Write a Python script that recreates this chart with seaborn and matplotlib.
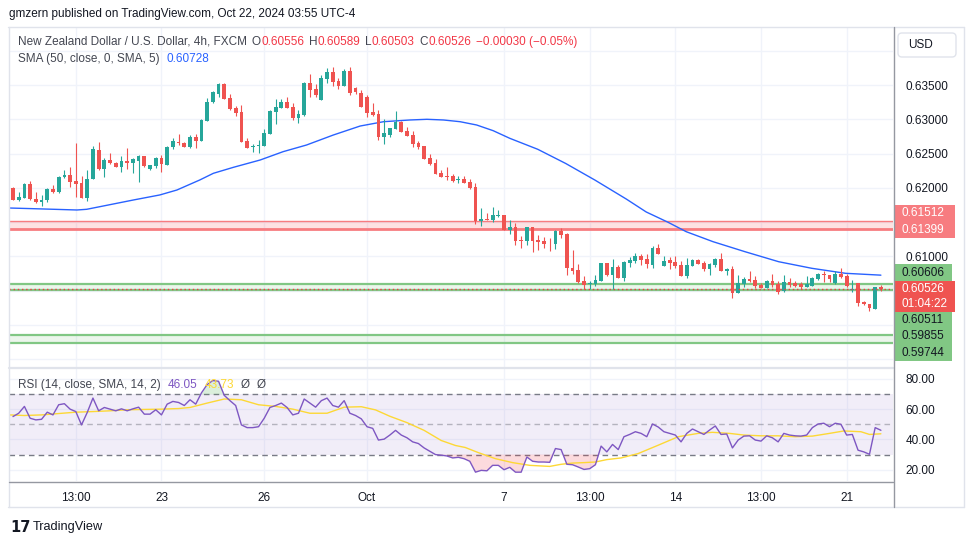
import matplotlib
matplotlib.use("Agg")
import matplotlib.pyplot as plt
import matplotlib.transforms as mtransforms
from matplotlib.patches import Rectangle, FancyBboxPatch
from matplotlib.lines import Line2D
import numpy as np
import seaborn as sns

W, H = 970, 545

# NZDUSD 4h candles (FXCM), oldest first
opens = [0.62003, 0.61824, 0.61858, 0.62052, 0.61838, 0.61799, 0.61824, 0.61984, 0.61935, 0.62154,
         0.62188, 0.62101, 0.62076, 0.61848, 0.62125, 0.62553, 0.62271, 0.62407, 0.62358, 0.62310,
         0.62392, 0.62358, 0.62397, 0.62465, 0.62271, 0.62319, 0.62441, 0.62334, 0.62591, 0.62674,
         0.62660, 0.62591, 0.62737, 0.62689, 0.62980, 0.63247, 0.63369, 0.63515, 0.63315, 0.63170,
         0.63111, 0.62684, 0.62601, 0.62611, 0.62611, 0.62786, 0.63102, 0.63170, 0.63247, 0.63174,
         0.63024, 0.63063, 0.63534, 0.63442, 0.63281, 0.63587, 0.63685, 0.63558, 0.63490, 0.63709,
         0.63461, 0.63379, 0.63320, 0.63111, 0.63077, 0.62747, 0.62771, 0.62859, 0.62965, 0.62829,
         0.62771, 0.62659, 0.62611, 0.62441, 0.62368, 0.62222, 0.62174, 0.62174, 0.62115, 0.62130,
         0.62091, 0.62008, 0.61522, 0.61547, 0.61532, 0.61591, 0.61605, 0.61386, 0.61425, 0.61240,
         0.61231, 0.61425, 0.61241, 0.61226, 0.61202, 0.61182, 0.61372, 0.61328, 0.60828, 0.60803,
         0.60643, 0.60594, 0.60599, 0.60648, 0.60900, 0.60730, 0.60842, 0.60691, 0.60910, 0.60934,
         0.61007, 0.60959, 0.60876, 0.61119, 0.60866, 0.60949, 0.60915, 0.60876, 0.60721, 0.60866,
         0.60949, 0.60910, 0.60818, 0.60876, 0.60964, 0.60793, 0.60813, 0.60473, 0.60599, 0.60667,
         0.60657, 0.60585, 0.60546, 0.60643, 0.60599, 0.60502, 0.60623, 0.60609, 0.60594, 0.60560,
         0.60575, 0.60672, 0.60740, 0.60730, 0.60609, 0.60740, 0.60716, 0.60512, 0.60609, 0.60342,
         0.60303, 0.60235, 0.60556]
highs = [0.62018, 0.61945, 0.62067, 0.62101, 0.61945, 0.61897, 0.62003, 0.62042, 0.62174, 0.62261,
         0.62300, 0.62659, 0.62174, 0.62261, 0.62611, 0.62674, 0.62431, 0.62504, 0.62382, 0.62465,
         0.62577, 0.62431, 0.62480, 0.62465, 0.62339, 0.62455, 0.62480, 0.62611, 0.62728, 0.62786,
         0.62674, 0.62771, 0.62786, 0.63004, 0.63306, 0.63417, 0.63534, 0.63534, 0.63364, 0.63194,
         0.63208, 0.62723, 0.62640, 0.62698, 0.62854, 0.63136, 0.63291, 0.63291, 0.63320, 0.63242,
         0.63136, 0.63549, 0.63660, 0.63515, 0.63646, 0.63743, 0.63757, 0.63597, 0.63733, 0.63767,
         0.63476, 0.63427, 0.63354, 0.63233, 0.63136, 0.63004, 0.62878, 0.63121, 0.62980, 0.62883,
         0.62829, 0.62688, 0.62611, 0.62494, 0.62416, 0.62261, 0.62309, 0.62203, 0.62174, 0.62174,
         0.62125, 0.62066, 0.61712, 0.61629, 0.61717, 0.61678, 0.61605, 0.61532, 0.61493, 0.61299,
         0.61435, 0.61435, 0.61313, 0.61279, 0.61265, 0.61386, 0.61411, 0.61338, 0.61095, 0.60891,
         0.60716, 0.60643, 0.60730, 0.60900, 0.60900, 0.60959, 0.60876, 0.60939, 0.60988, 0.61056,
         0.61036, 0.61036, 0.61153, 0.61182, 0.61012, 0.60998, 0.61007, 0.60934, 0.60973, 0.60959,
         0.60959, 0.60934, 0.60900, 0.60973, 0.61046, 0.60828, 0.60862, 0.60730, 0.60696, 0.60789,
         0.60721, 0.60609, 0.60657, 0.60745, 0.60648, 0.60730, 0.60682, 0.60643, 0.60633, 0.60716,
         0.60696, 0.60755, 0.60789, 0.60730, 0.60793, 0.60828, 0.60740, 0.60657, 0.60619, 0.60351,
         0.60303, 0.60551, 0.60589]
lows = [0.61819, 0.61814, 0.61848, 0.61824, 0.61775, 0.61741, 0.61799, 0.61930, 0.61930, 0.62149,
        0.62008, 0.61872, 0.61848, 0.61804, 0.62125, 0.62261, 0.62164, 0.62348, 0.62300, 0.62237,
        0.62276, 0.62212, 0.62091, 0.62310, 0.62261, 0.62285, 0.62237, 0.62329, 0.62562, 0.62625,
        0.62591, 0.62577, 0.62586, 0.62689, 0.62980, 0.63233, 0.63330, 0.63296, 0.63136, 0.63048,
        0.62674, 0.62577, 0.62528, 0.62514, 0.62611, 0.62786, 0.62932, 0.63170, 0.63160, 0.62990,
        0.62951, 0.63053, 0.63330, 0.63330, 0.63281, 0.63534, 0.63490, 0.63442, 0.63485, 0.63354,
        0.63364, 0.63174, 0.63038, 0.63048, 0.62698, 0.62635, 0.62747, 0.62859, 0.62820, 0.62756,
        0.62601, 0.62567, 0.62421, 0.62334, 0.62203, 0.62154, 0.62115, 0.62091, 0.62076, 0.62066,
        0.61979, 0.61474, 0.61445, 0.61532, 0.61508, 0.61581, 0.61386, 0.61328, 0.61168, 0.61119,
        0.61168, 0.61070, 0.61095, 0.61119, 0.61085, 0.61109, 0.61265, 0.60730, 0.60745, 0.60609,
        0.60521, 0.60521, 0.60570, 0.60648, 0.60716, 0.60526, 0.60691, 0.60643, 0.60852, 0.60900,
        0.60876, 0.60837, 0.60837, 0.61036, 0.60866, 0.60818, 0.60837, 0.60721, 0.60691, 0.60862,
        0.60891, 0.60793, 0.60730, 0.60852, 0.60793, 0.60730, 0.60400, 0.60473, 0.60560, 0.60633,
        0.60536, 0.60546, 0.60536, 0.60560, 0.60448, 0.60487, 0.60551, 0.60560, 0.60526, 0.60560,
        0.60570, 0.60657, 0.60633, 0.60633, 0.60599, 0.60682, 0.60560, 0.60478, 0.60278, 0.60288,
        0.60210, 0.60235, 0.60503]
closes = [0.61824, 0.61872, 0.62057, 0.61833, 0.61790, 0.61824, 0.61984, 0.61935, 0.62164, 0.62188,
          0.62091, 0.62057, 0.61848, 0.62130, 0.62562, 0.62271, 0.62407, 0.62358, 0.62310, 0.62392,
          0.62358, 0.62416, 0.62465, 0.62319, 0.62329, 0.62441, 0.62344, 0.62591, 0.62689, 0.62650,
          0.62601, 0.62737, 0.62689, 0.62990, 0.63257, 0.63393, 0.63515, 0.63296, 0.63150, 0.63097,
          0.62674, 0.62586, 0.62616, 0.62625, 0.62795, 0.63126, 0.63174, 0.63257, 0.63170, 0.63024,
          0.63077, 0.63534, 0.63427, 0.63354, 0.63607, 0.63685, 0.63549, 0.63490, 0.63709, 0.63379,
          0.63403, 0.63184, 0.63097, 0.63063, 0.62747, 0.62795, 0.62868, 0.62965, 0.62820, 0.62761,
          0.62640, 0.62601, 0.62421, 0.62348, 0.62203, 0.62164, 0.62164, 0.62105, 0.62130, 0.62076,
          0.62003, 0.61522, 0.61547, 0.61532, 0.61605, 0.61605, 0.61386, 0.61435, 0.61231, 0.61231,
          0.61425, 0.61231, 0.61216, 0.61182, 0.61192, 0.61372, 0.61313, 0.60828, 0.60789, 0.60633,
          0.60585, 0.60609, 0.60657, 0.60900, 0.60730, 0.60842, 0.60691, 0.60915, 0.60949, 0.61007,
          0.60949, 0.60886, 0.61119, 0.61036, 0.60939, 0.60910, 0.60866, 0.60721, 0.60876, 0.60949,
          0.60891, 0.60818, 0.60891, 0.60959, 0.60793, 0.60813, 0.60473, 0.60609, 0.60667, 0.60643,
          0.60575, 0.60546, 0.60643, 0.60585, 0.60478, 0.60623, 0.60585, 0.60575, 0.60560, 0.60594,
          0.60691, 0.60740, 0.60725, 0.60672, 0.60740, 0.60706, 0.60570, 0.60526, 0.60327, 0.60303,
          0.60244, 0.60551, 0.60526]

# SMA(50) line, sampled along the curve (bar index, price)
sma_idx = [-0.7, 3.6, 11.2, 12.9, 15.2, 21.1, 25.7, 28.7, 32.7, 35.1, 38.6, 43.3, 47.3, 51.4, 56.1,
           60.8, 64.9, 69.5, 72.5, 75.4, 78.3, 81.2, 84.1, 87.0, 90.0, 91.9, 96.8, 101.9, 107.4,
           110.9, 114.7, 117.9, 122.6, 128.2, 134.1, 139.9, 145.8, 152.0]
sma_val = [0.61707, 0.61697, 0.61678, 0.61688, 0.61726, 0.61824, 0.61897, 0.61969, 0.62115, 0.62213,
           0.62300, 0.62407, 0.62528, 0.62625, 0.62771, 0.62902, 0.62965, 0.62990, 0.63000, 0.62990,
           0.62965, 0.62917, 0.62834, 0.62723, 0.62625, 0.62563, 0.62356, 0.62115, 0.61838, 0.61649,
           0.61500, 0.61362, 0.61216, 0.61070, 0.60924, 0.60828, 0.60755, 0.60728]

# RSI(14), one value per bar
rsi = [55.1, 57.3, 61.8, 54.0, 52.9, 53.3, 58.0, 56.2, 62.9, 63.6,
       60.0, 58.4, 49.6, 57.8, 67.3, 58.9, 61.1, 60.0, 58.9, 60.2,
       58.9, 60.2, 61.3, 56.7, 56.7, 59.6, 56.2, 63.3, 65.1, 64.4,
       62.4, 66.2, 63.3, 70.7, 76.2, 78.9, 78.4, 69.1, 65.6, 62.4,
       49.6, 47.8, 47.8, 48.4, 54.0, 61.1, 62.4, 64.0, 61.1, 56.2,
       57.3, 66.7, 64.0, 61.3, 65.6, 67.3, 62.4, 61.3, 65.6, 57.3,
       55.8, 53.6, 48.4, 47.3, 39.6, 40.2, 42.9, 46.0, 42.9, 41.1,
       38.4, 37.3, 34.4, 32.2, 30.0, 29.6, 29.1, 27.8, 28.2, 27.3,
       25.6, 18.4, 19.6, 19.3, 22.9, 22.9, 20.0, 21.6, 18.4, 18.4,
       28.4, 25.6, 25.1, 25.1, 24.9, 34.0, 33.3, 23.6, 23.3, 21.8,
       20.2, 20.7, 23.3, 35.6, 31.8, 36.7, 33.3, 41.8, 43.3, 45.1,
       44.0, 41.8, 50.2, 48.2, 45.1, 44.0, 42.9, 38.4, 44.0, 46.9,
       45.1, 43.3, 46.2, 48.9, 43.3, 43.6, 34.4, 39.6, 42.2, 42.4,
       39.6, 38.9, 42.4, 41.1, 38.4, 44.0, 42.9, 42.4, 42.2, 42.9,
       47.8, 50.2, 50.7, 48.4, 50.7, 50.0, 42.9, 43.3, 32.9, 31.8,
       30.2, 47.8, 46.05]

# SMA(14) of RSI, sampled along the curve
rsi_ma_idx = [-0.7, 2, 5, 8, 11, 14, 17, 20, 23, 26, 29, 31, 34, 37, 40, 43, 46, 49, 52, 55, 58,
              61, 63.5, 66, 69, 72, 75, 77.5, 79.2, 81.5, 84.5, 87.5, 90.5, 94, 96, 98, 100, 102,
              104, 106.5, 109.5, 113, 116.5, 120, 122.5, 125.5, 128, 131, 134, 137, 140, 143,
              145.5, 148.5, 150, 152]
rsi_ma_val = [56.2, 55.8, 56.2, 57.1, 58.0, 58.4, 58.9, 59.6, 59.8, 60.0, 60.4, 61.1, 64.0, 66.7,
              66.2, 62.9, 61.8, 60.0, 57.3, 57.3, 61.3, 61.6, 59.5, 55.3, 51.1, 46.0, 39.3, 36.0,
              34.7, 31.3, 27.3, 24.7, 22.9, 22.2, 23.6, 24.4, 24.7, 25.1, 26.7, 27.8, 30.7, 36.2,
              41.8, 44.0, 44.7, 44.0, 42.9, 42.4, 42.4, 41.8, 42.2, 44.0, 45.6, 45.1, 43.3, 43.73]

time_ticks = [11, 26, 44, 62, 86, 101, 116, 131, 146]
time_labels = ["13:00", "23", "26", "Oct", "7", "13:00", "14", "13:00", "21"]
price_ticks = [0.635, 0.630, 0.625, 0.620, 0.610]
price_grid = [0.640, 0.635, 0.630, 0.625, 0.620, 0.615, 0.610, 0.605, 0.600, 0.595]
rsi_ticks = [20, 40, 60, 80]

resistance = [0.61399, 0.61512]
support_1 = [0.60511, 0.60606]
support_2 = [0.59744, 0.59855]
last_price = 0.60526
countdown = "01:04:22"

GREEN = "#26a69a"
RED = "#ef5350"
TXT = "#131722"
GREY = "#787b86"
GRID = "#f0f3fa"
FS = 8.5

sns.set_theme(style="white")
plt.rcParams["font.family"] = ["Liberation Sans", "DejaVu Sans"]

fig = plt.figure(figsize=(W / 100, H / 100), dpi=100)
fig.patch.set_facecolor("white")
PX = mtransforms.IdentityTransform()


def frac_rect(x, y, w, h):
    return [x / W, 1 - (y + h) / H, w / W, h / H]


ax = fig.add_axes(frac_rect(9, 27, 884, 340))
ax_r = fig.add_axes(frac_rect(9, 369, 884, 112), sharex=ax)
for a in (ax, ax_r):
    a.set_facecolor("white")
    for s in a.spines.values():
        s.set_visible(False)

# ---- price panel
idx = np.arange(len(opens))
o = np.array(opens)
hi = np.array(highs)
lo = np.array(lows)
c = np.array(closes)
cols = np.where(c >= o, GREEN, RED)

for p in price_grid:
    ax.axhline(p, color=GRID, lw=1, zorder=0)
for t in time_ticks:
    ax.axvline(t, color=GRID, lw=1, zorder=0)
    ax_r.axvline(t, color=GRID, lw=1, zorder=0)

ax.axhspan(resistance[0], resistance[1], color="#f77c80", alpha=0.22, lw=0, zorder=1)
ax.axhline(resistance[1], color="#f77c80", lw=1.0, zorder=2)
ax.axhline(resistance[0], color="#f77c80", lw=2.0, zorder=2)
for band in (support_1, support_2):
    ax.axhspan(band[0], band[1], color="#81c784", alpha=0.15, lw=0, zorder=1)
    ax.axhline(band[0], color="#81c784", lw=1.6, zorder=2)
    ax.axhline(band[1], color="#81c784", lw=1.6, zorder=2)

sns.lineplot(x=sma_idx, y=sma_val, ax=ax, color="#2962ff", linewidth=1.0, zorder=3, legend=False)

ax.vlines(idx, lo, hi, colors=cols, linewidth=0.8, zorder=4)
body = np.maximum(np.abs(c - o), 0.00012)
ax.bar(idx, body, bottom=np.minimum(o, c), width=0.66, color=cols, linewidth=0, zorder=5)

ax.axhline(last_price, color="#f23645", lw=1, linestyle=(0, (1, 2)), zorder=6)

ax.set_xlim(-0.7, 154.12)
ax.set_ylim(0.593892, 0.643455)
ax.yaxis.tick_right()
ax.set_yticks(price_ticks)
ax.set_yticklabels([f"{p:.5f}" for p in price_ticks])
ax.tick_params(axis="y", length=0, pad=9, labelsize=FS, labelcolor=TXT)
ax.tick_params(axis="x", length=0, labelbottom=False)
ax.grid(False)

# ---- RSI panel
r = np.array(rsi)
for v in rsi_ticks:
    ax_r.axhline(v, color=GRID, lw=1, zorder=0)
ax_r.axhspan(30, 70, color="#7e57c2", alpha=0.1, lw=0, zorder=1)
ax_r.axhline(70, color=GREY, lw=1, ls=(0, (4, 3)), zorder=2)
ax_r.axhline(30, color=GREY, lw=1, ls=(0, (4, 3)), zorder=2)
ax_r.axhline(50, color=GREY, lw=1, ls=(0, (4, 3)), alpha=0.5, zorder=2)
ax_r.fill_between(idx, r, 30, where=r < 30, interpolate=True, color="#f23645", alpha=0.18, lw=0, zorder=2)
ax_r.fill_between(idx, r, 70, where=r > 70, interpolate=True, color="#4caf50", alpha=0.2, lw=0, zorder=2)
sns.lineplot(x=rsi_ma_idx, y=rsi_ma_val, ax=ax_r, color="#fdd835", linewidth=1.0, zorder=3, legend=False)
sns.lineplot(x=idx, y=r, ax=ax_r, color="#7e57c2", linewidth=1.0, zorder=4, legend=False)
ax_r.set_ylim(12.57, 86.5)
ax_r.yaxis.tick_right()
ax_r.set_yticks(rsi_ticks)
ax_r.set_yticklabels([f"{v:.2f}" for v in rsi_ticks])
ax_r.set_xticks(time_ticks)
ax_r.set_xticklabels(time_labels)
ax_r.tick_params(axis="y", length=0, pad=9, labelsize=FS, labelcolor=TXT)
ax_r.tick_params(axis="x", length=0, pad=8, labelsize=FS, labelcolor=TXT)
ax_r.set_xlabel("")
ax_r.set_ylabel("")
ax.set_xlabel("")
ax.set_ylabel("")
ax_r.grid(False)

# ---- frame, separators
def hline(x0, x1, y, color, lw=1.0):
    fig.lines.append(Line2D([x0, x1], [H - y, H - y], color=color, lw=lw, transform=PX))


def vline(x, y0, y1, color, lw=1.0):
    fig.lines.append(Line2D([x, x], [H - y0, H - y1], color=color, lw=lw, transform=PX))


hline(8, 964, 27, "#e0e3eb")
hline(8, 964, 507, "#e0e3eb")
vline(8.5, 27, 507, "#e0e3eb")
vline(963.5, 27, 507, "#e0e3eb")
hline(9, 893, 368, "#e0e3eb", 1.6)
hline(9, 893, 481.5, "#9598a1")
vline(893.5, 27, 507, "#9598a1")

# ---- price-scale labels
def label_box(y_top, y_bot, color, width):
    fig.patches.append(Rectangle((894, H - y_bot), width, y_bot - y_top, color=color,
                                 transform=PX, lw=0))


def scale_text(y, s, color):
    fig.text(902, H - y, s, transform=PX, fontsize=FS, color=color, va="center", ha="left")


label_box(205, 238, "#f77c80", 61)
scale_text(212.5, f"{resistance[1]:.5f}", "white")
scale_text(230, f"{resistance[0]:.5f}", "white")
label_box(264, 281, "#81c784", 58)
scale_text(272.5, f"{support_1[1]:.5f}", TXT)
label_box(281, 312, RED, 61)
scale_text(289, f"{last_price:.5f}", "white")
scale_text(304, countdown, "white")
label_box(312, 361, "#81c784", 58)
scale_text(320, f"{support_1[0]:.5f}", TXT)
scale_text(336, f"{support_2[1]:.5f}", TXT)
scale_text(352.5, f"{support_2[0]:.5f}", TXT)

fig.patches.append(FancyBboxPatch((898, H - 57), 58, 24, boxstyle="round,pad=0,rounding_size=4",
                                  transform=PX, facecolor="white", edgecolor="#e0e3eb", lw=1))
fig.text(908, H - 45, "USD", transform=PX, fontsize=FS, color=TXT, va="center", ha="left")

# ---- legends
renderer = fig.canvas.get_renderer()


def chain(x, y, parts, size=FS):
    for s, col, gap in parts:
        t = fig.text(x, H - y, s, transform=PX, fontsize=size, color=col, va="center", ha="left")
        x += t.get_window_extent(renderer=renderer).width + gap


fig.text(9, H - 14, "gmzern published on TradingView.com, Oct 22, 2024 03:55 UTC-4", transform=PX,
         fontsize=FS, color=TXT, va="center", ha="left")

LEG = "#434651"
RV = "#f23645"
chain(18, 42, [("New Zealand Dollar / U.S. Dollar, 4h, FXCM", LEG, 5),
               ("O", LEG, 0), (f"{opens[-1]:.5f}", RV, 5),
               ("H", LEG, 0), (f"{highs[-1]:.5f}", RV, 5),
               ("L", LEG, 0), (f"{lows[-1]:.5f}", RV, 5),
               ("C", LEG, 0), (f"{closes[-1]:.5f}", RV, 5),
               ("\u22120.00030 (\u22120.05%)", RV, 0)])
chain(18, 59, [("SMA (50, close, 0, SMA, 5)", LEG, 7), (f"{sma_val[-1]:.5f}", "#2962ff", 0)])
chain(18, 385, [("RSI (14, close, SMA, 14, 2)", LEG, 7), (f"{rsi[-1]:.2f}", "#7e57c2", 7),
                (f"{rsi_ma_val[-1]:.2f}", "#fdd835", 7), ("\u00d8", LEG, 7), ("\u00d8", LEG, 0)])

# ---- footer logo
fig.text(10, H - 527, "17", transform=PX, fontsize=10.5, fontweight="heavy", color=TXT,
         va="center", ha="left", family="DejaVu Sans")
fig.text(33, H - 527, "TradingView", transform=PX, fontsize=9.2, color=TXT, va="center", ha="left")

fig.savefig("out.png", dpi=100, facecolor="white")
